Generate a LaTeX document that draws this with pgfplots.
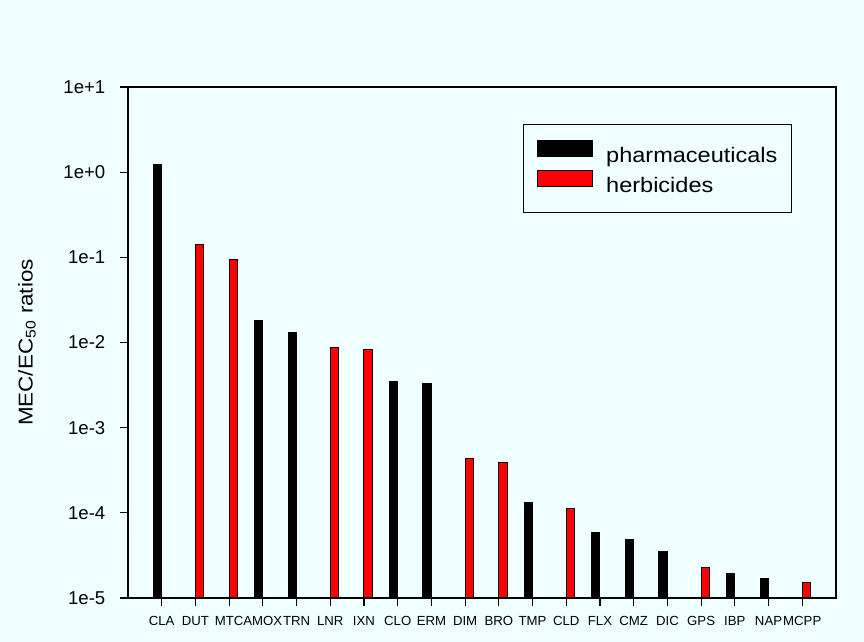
\documentclass[border=0pt]{standalone}
\usepackage{fontspec}
\setmainfont{Liberation Sans}
\newfontfamily\widefont[FakeStretch=1.12]{Liberation Sans}
\usepackage{pgfplots}
\pgfplotsset{compat=1.18}
\definecolor{bgazure}{RGB}{240,255,255}
\definecolor{herbred}{RGB}{255,0,0}
\begin{document}
\begin{tikzpicture}
\fill[bgazure] (0,0) rectangle (432pt,321pt);
\useasboundingbox (0,0) rectangle (432pt,321pt);
\begin{axis}[
  at={(64pt,22pt)}, anchor=south west,
  scale only axis, width=354pt, height=255.5pt,
  ymode=log, log origin y=infty,
  ymin=1e-5, ymax=10,
  xmin=-1, xmax=20,
  ybar, bar width=0.25,
  xtick={0,...,19},
  xticklabels={CLA,DUT,MTC,AMOX,TRN,LNR,IXN,CLO,ERM,DIM,BRO,TMP,CLD,FLX,CMZ,DIC,GPS,IBP,NAP,MCPP},
  ytick={1e-5,1e-4,1e-3,1e-2,1e-1,1,10},
  yticklabels={1e-5,1e-4,1e-3,1e-2,1e-1,1e+0,1e+1},
  yminorticks=false,
  tick align=outside, tick pos=left,
  major tick length=3.8pt,
  every tick/.style={black, line width=0.6pt},
  axis line style={black, line width=0.6pt},
  xticklabel style={font=\fontsize{6.6}{8}\selectfont, inner sep=2pt, yshift=-3pt},
  yticklabel style={font=\fontsize{9.3}{11}\selectfont, xshift=-4pt},
  ylabel={MEC/EC\textsubscript{50} ratios},
  ylabel style={font=\widefont\fontsize{10}{12}\selectfont, at={(axis description cs:-0.1427,0.5)}, anchor=center},
  legend style={at={(0.5575,0.927)}, anchor=north west, draw=black, line width=0.5pt, fill=bgazure,
    inner xsep=7pt, inner ysep=7.6pt, row sep=1.5pt, column sep=6.5pt,
    nodes={inner sep=0pt, text height=8pt, text depth=2.5pt, font=\widefont\fontsize{10.5}{12}\selectfont}},
  legend cell align=left,
  legend image code/.code={\draw[#1, line width=0.5pt] (0pt,0.3pt) rectangle (27.5pt,8.1pt);},
]
\addplot[fill=black, draw=black, line width=0.5pt, bar shift=-0.125] coordinates {
  (0,1.22) (3,0.0182) (4,0.0131) (7,3.5e-3) (8,3.32e-3) (11,1.34e-4)
  (13,5.95e-5) (14,4.85e-5) (15,3.5e-5) (17,1.95e-5) (18,1.68e-5)
};
\addlegendentry{pharmaceuticals\hspace{3.5pt}}
\addplot[fill=herbred, draw=black, line width=0.5pt, bar shift=0.125] coordinates {
  (1,0.141) (2,0.094) (5,8.8e-3) (6,8.35e-3) (9,4.3e-4) (10,3.9e-4)
  (12,1.13e-4) (16,2.3e-5) (19,1.52e-5)
};
\addlegendentry{herbicides}
\end{axis}
\end{tikzpicture}
\end{document}
